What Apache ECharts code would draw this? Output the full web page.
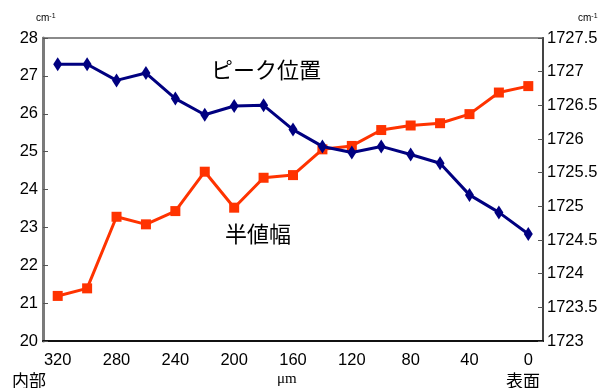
<!DOCTYPE html>
<html>
<head>
<meta charset="utf-8">
<script src="https://cdn.jsdelivr.net/npm/echarts@6/dist/echarts.min.js"></script>
<style>
  html, body { margin: 0; padding: 0; background: #fff; }
  #chart { width: 603px; height: 388px; }
</style>
</head>
<body>
<div id="chart"></div>
<script>
// Depth from the surface (μm), inner side on the left
const depths = ['320', '300', '280', '260', '240', '220', '200', '180', '160',
                '140', '120', '100', '80', '60', '40', '20', '0'];
// Peak position (cm-1), right axis
const peakPosition = [1727.11, 1727.11, 1726.87, 1726.98, 1726.60, 1726.36, 1726.49,
                      1726.50, 1726.14, 1725.89, 1725.80, 1725.89, 1725.77, 1725.64,
                      1725.17, 1724.91, 1724.59];
// Half width (cm-1), left axis
const halfWidth = [21.19, 21.39, 23.28, 23.08, 23.43, 24.47, 23.52, 24.31, 24.38,
                   25.06, 25.15, 25.57, 25.69, 25.75, 25.99, 26.56, 26.73];
const leftTicks = { min: 20, max: 28, interval: 1 };
const rightTicks = { min: 1723, max: 1727.5, interval: 0.5 };

const numFont = 'Liberation Sans, Arial, sans-serif';
const cjkFont = '"Noto Sans CJK JP", sans-serif';

const chart = echarts.init(document.getElementById('chart'), null, { renderer: 'canvas' });

const unitLabel = (left) => ({
  type: 'text', left: left, top: 13,
  style: {
    text: '{a|cm}{b|-1}',
    rich: {
      a: { fontSize: 10, fontFamily: numFont, fill: '#000' },
      b: { fontSize: 7, fontFamily: numFont, fill: '#000', verticalAlign: 'top', padding: [0, 0, 4, 0] }
    }
  }
});

chart.setOption({
  animation: false,
  backgroundColor: '#ffffff',
  grid: {
    left: 43, right: 60, top: 38, bottom: 47,
    show: true, borderColor: '#8a8a8a', borderWidth: 2, backgroundColor: 'transparent'
  },
  xAxis: {
    type: 'category',
    data: depths,
    boundaryGap: true,
    axisLine: { lineStyle: { color: '#111', width: 2 } },
    axisTick: { inside: true, length: 5, interval: 0, lineStyle: { color: '#333', width: 1 } },
    axisLabel: { interval: 1, margin: 11, color: '#000', fontFamily: numFont, fontSize: 16.5 },
    splitLine: { show: false }
  },
  yAxis: [
    {
      type: 'value',
      position: 'left',
      min: leftTicks.min, max: leftTicks.max, interval: leftTicks.interval,
      axisLine: { show: true, lineStyle: { color: '#7a7a7a', width: 3 } },
      axisTick: { show: true, inside: true, length: 5, lineStyle: { color: '#555' } },
      axisLabel: { margin: 5, color: '#000', fontFamily: numFont, fontSize: 16.5 },
      splitLine: { show: false }
    },
    {
      type: 'value',
      position: 'right',
      min: rightTicks.min, max: rightTicks.max, interval: rightTicks.interval,
      axisLine: { show: true, lineStyle: { color: '#444', width: 2 } },
      axisTick: { show: true, inside: true, length: 5, lineStyle: { color: '#555' } },
      axisLabel: {
        margin: 4, color: '#000', fontFamily: numFont, fontSize: 16.5,
        formatter: (v) => String(v)
      },
      splitLine: { show: false }
    }
  ],
  series: [
    {
      name: '半値幅',
      type: 'line',
      yAxisIndex: 0,
      data: halfWidth,
      symbol: 'rect',
      symbolSize: 10,
      itemStyle: { color: '#ff3300' },
      lineStyle: { color: '#ff3300', width: 3 },
      z: 2
    },
    {
      name: 'ピーク位置',
      type: 'line',
      yAxisIndex: 1,
      data: peakPosition,
      symbol: 'diamond',
      symbolSize: [9, 14],
      itemStyle: { color: '#000080' },
      lineStyle: { color: '#000080', width: 3 },
      z: 3
    }
  ],
  graphic: [
    unitLabel(36),
    unitLabel(578),
    {
      type: 'text', left: 211, top: 59,
      style: { text: 'ピーク位置', fontSize: 22, fontFamily: cjkFont, fill: '#000' }
    },
    {
      type: 'text', left: 225, top: 223,
      style: { text: '半値幅', fontSize: 22, fontFamily: cjkFont, fill: '#000' }
    },
    {
      type: 'text', left: 277, top: 372,
      style: { text: 'μm', fontSize: 15, fontFamily: 'Liberation Serif, serif', fill: '#000' }
    },
    {
      type: 'text', left: 12, top: 372,
      style: { text: '内部', fontSize: 17, fontFamily: cjkFont, fill: '#000' }
    },
    {
      type: 'text', left: 506, top: 372,
      style: { text: '表面', fontSize: 17, fontFamily: cjkFont, fill: '#000' }
    }
  ]
});
</script>
</body>
</html>
